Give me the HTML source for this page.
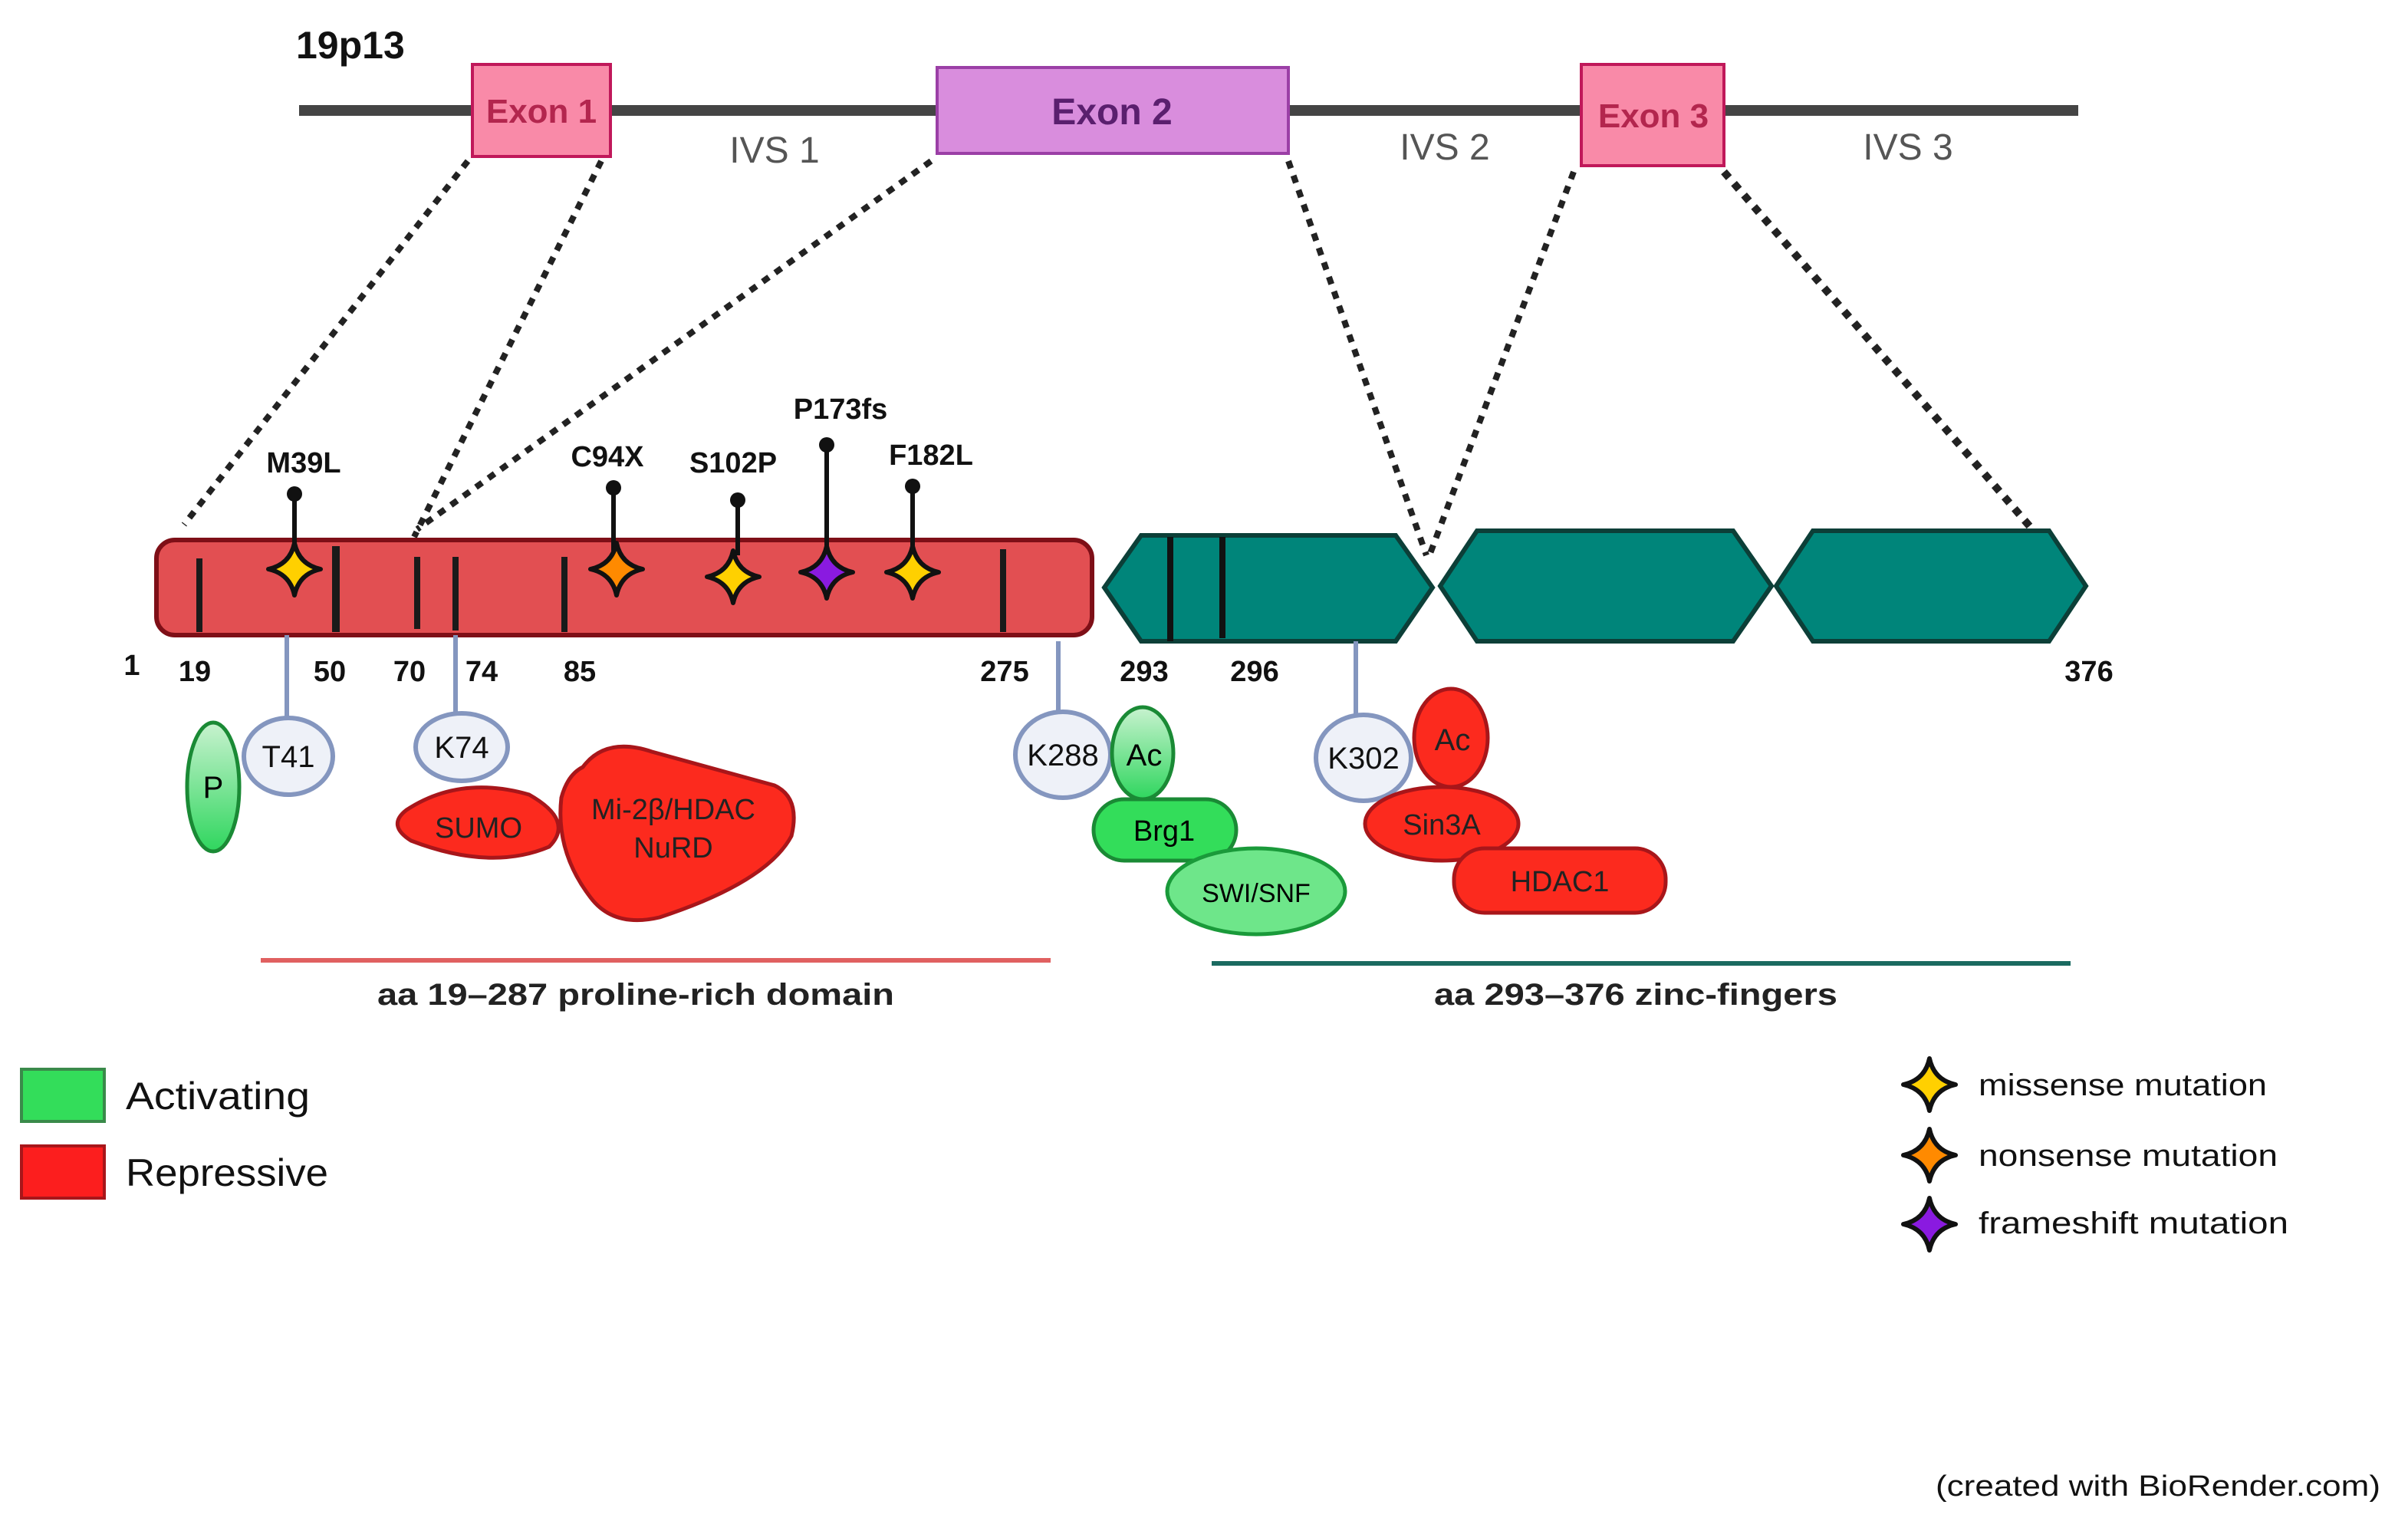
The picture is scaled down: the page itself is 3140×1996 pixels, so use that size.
<!DOCTYPE html>
<html><head><meta charset="utf-8"><style>html,body{margin:0;padding:0;background:#fff}svg{display:block}</style></head>
<body>
<svg width="3140" height="1996" viewBox="0 0 1570 998" xmlns="http://www.w3.org/2000/svg" font-family="Liberation Sans, sans-serif">
<defs>
<linearGradient id="g" x1="0" y1="0" x2="0" y2="1"><stop offset="0" stop-color="#c8f2cf"/><stop offset="1" stop-color="#2fd65e"/></linearGradient>
<path id="st" d="M0,-17 Q3,-3 17,0 Q3,3 0,17 Q-3,3 -17,0 Q-3,-3 0,-17Z" stroke="#111" stroke-width="3" stroke-linejoin="round"/>
</defs>
<text x="193" y="38" font-size="25" font-weight="bold" fill="#111">19p13</text>
<line x1="195" y1="72" x2="1355" y2="72" stroke="#444" stroke-width="7"/>
<rect x="308" y="42" width="90" height="60" fill="#f98aa8" stroke="#c0185a" stroke-width="2"/>
<text x="353" y="80" font-size="22" font-weight="bold" fill="#b3264e" text-anchor="middle">Exon 1</text>
<rect x="611" y="44" width="229" height="56" fill="#d98ddd" stroke="#9b3fa6" stroke-width="2"/>
<text x="725" y="81" font-size="24" font-weight="bold" fill="#5a1f6e" text-anchor="middle">Exon 2</text>
<rect x="1031" y="42" width="93" height="66" fill="#f98aa8" stroke="#c0185a" stroke-width="2"/>
<text x="1078" y="83" font-size="22" font-weight="bold" fill="#b3264e" text-anchor="middle">Exon 3</text>
<g font-size="24" fill="#555" text-anchor="middle"><text x="505" y="106">IVS 1</text><text x="942" y="104">IVS 2</text><text x="1244" y="104">IVS  3</text></g>
<g stroke="#222" stroke-width="4" stroke-dasharray="5 5" fill="none">
<line x1="305" y1="105" x2="120" y2="342"/><line x1="392" y1="105" x2="270" y2="350"/><line x1="607" y1="105" x2="272" y2="345"/>
<line x1="840" y1="105" x2="930" y2="362"/><line x1="1026" y1="112" x2="932" y2="362"/><line x1="1124" y1="112" x2="1325" y2="345" stroke-width="5"/>
</g>
<rect x="102" y="352" width="610" height="62" rx="12" fill="#e24f52" stroke="#7e0f17" stroke-width="3"/>
<g stroke="#1a1a1a" stroke-width="4">
<line x1="130" y1="364" x2="130" y2="412"/><line x1="219" y1="356" x2="219" y2="412" stroke-width="5"/><line x1="272" y1="363" x2="272" y2="410"/><line x1="297" y1="363" x2="297" y2="411"/><line x1="368" y1="363" x2="368" y2="412"/><line x1="654" y1="358" x2="654" y2="412"/>
</g>
<g fill="#00857a" stroke="#0c3f38" stroke-width="3">
<polygon points="720,383 744,349 910,349 934,383 910,418 744,418"/>
<polygon points="939,382 963,346 1130,346 1155,382 1130,418 963,418"/>
<polygon points="1158,382 1182,346 1336,346 1360,382 1336,418 1182,418"/>
</g>
<g stroke="#111" stroke-width="4"><line x1="763" y1="350" x2="763" y2="418"/><line x1="797" y1="350" x2="797" y2="416"/></g>
<g font-size="19" font-weight="bold" fill="#111" text-anchor="middle">
<text x="86" y="440">1</text><text x="127" y="444">19</text><text x="215" y="444">50</text><text x="267" y="444">70</text><text x="314" y="444">74</text><text x="378" y="444">85</text><text x="655" y="444">275</text><text x="746" y="444">293</text><text x="818" y="444">296</text><text x="1362" y="444">376</text>
</g>
<g stroke="#111" stroke-width="3">
<line x1="192" y1="322" x2="192" y2="360"/><line x1="400" y1="318" x2="400" y2="360"/><line x1="481" y1="326" x2="481" y2="362"/><line x1="539" y1="290" x2="539" y2="358"/><line x1="595" y1="317" x2="595" y2="360"/>
</g>
<g fill="#111"><circle cx="192" cy="322" r="5"/><circle cx="400" cy="318" r="5"/><circle cx="481" cy="326" r="5"/><circle cx="539" cy="290" r="5"/><circle cx="595" cy="317" r="5"/></g>
<use href="#st" x="192" y="371" fill="#ffd000"/><use href="#st" x="402" y="371" fill="#ff8a00"/><use href="#st" x="478" y="376" fill="#ffd000"/><use href="#st" x="539" y="373" fill="#8a1ae0"/><use href="#st" x="595" y="373" fill="#ffd000"/>
<g font-size="19" font-weight="bold" fill="#111" text-anchor="middle">
<text x="198" y="308">M39L</text><text x="396" y="304">C94X</text><text x="478" y="308">S102P</text><text x="548" y="273">P173fs</text><text x="607" y="303">F182L</text>
</g>
<g stroke="#8496bf" stroke-width="3"><line x1="187" y1="414" x2="187" y2="469"/><line x1="297" y1="414" x2="297" y2="465"/><line x1="690" y1="418" x2="690" y2="464"/><line x1="884" y1="418" x2="884" y2="466"/></g>
<ellipse cx="139" cy="513" rx="17" ry="42" fill="url(#g)" stroke="#1a8a35" stroke-width="2.5"/>
<text x="139" y="520" font-size="20" text-anchor="middle">P</text>
<path d="M265,528 Q300,505 345,518 Q375,535 358,552 Q320,568 268,548 Q252,538 265,528Z" fill="#fc2a1e" stroke="#a8161a" stroke-width="2.5"/>
<text x="312" y="546" font-size="19" fill="#222" text-anchor="middle">SUMO</text>
<path d="M380,500 Q395,480 425,490 L505,512 Q522,520 516,545 Q500,575 430,598 Q400,605 385,585 Q362,555 366,520 Q370,505 380,500Z" fill="#fc2a1e" stroke="#a8161a" stroke-width="2.5"/>
<text x="439" y="534" font-size="19" fill="#222" text-anchor="middle">Mi-2β/HDAC</text><text x="439" y="559" font-size="19" fill="#222" text-anchor="middle">NuRD</text>
<g fill="#eef1f8" stroke="#8496bf" stroke-width="3">
<ellipse cx="188" cy="493" rx="29" ry="25"/><ellipse cx="301" cy="487" rx="30" ry="22"/><ellipse cx="693" cy="492" rx="31" ry="28"/><ellipse cx="889" cy="494" rx="31" ry="28"/>
</g>
<g font-size="20" fill="#111" text-anchor="middle"><text x="188" y="500">T41</text><text x="301" y="494">K74</text><text x="693" y="499">K288</text><text x="889" y="501">K302</text></g>
<ellipse cx="745" cy="491" rx="20" ry="30" fill="url(#g)" stroke="#1a8a35" stroke-width="2.5"/>
<text x="746" y="499" font-size="20" text-anchor="middle">Ac</text>
<rect x="713" y="521" width="93" height="40" rx="20" fill="#33dd5a" stroke="#1a8a35" stroke-width="2.5"/>
<text x="759" y="548" font-size="19" text-anchor="middle">Brg1</text>
<ellipse cx="819" cy="581" rx="58" ry="28" fill="#6ee68a" stroke="#1a9a3a" stroke-width="2.5"/>
<text x="819" y="588" font-size="17" text-anchor="middle">SWI/SNF</text>
<ellipse cx="946" cy="481" rx="24" ry="32" fill="#fc2a1e" stroke="#a8161a" stroke-width="2.5"/>
<text x="947" y="489" font-size="20" fill="#222" text-anchor="middle">Ac</text>
<ellipse cx="940" cy="537" rx="50" ry="24" fill="#fc2a1e" stroke="#a8161a" stroke-width="2.5"/>
<text x="940" y="544" font-size="19" fill="#222" text-anchor="middle">Sin3A</text>
<rect x="948" y="553" width="138" height="42" rx="20" fill="#fc2a1e" stroke="#a8161a" stroke-width="2.5"/>
<text x="1017" y="581" font-size="19" fill="#222" text-anchor="middle">HDAC1</text>
<line x1="170" y1="626" x2="685" y2="626" stroke="#e06060" stroke-width="3"/>
<line x1="790" y1="628" x2="1350" y2="628" stroke="#1a6a60" stroke-width="3"/>
<g font-size="20" font-weight="bold" fill="#222"><text x="246" y="655" textLength="337" lengthAdjust="spacingAndGlyphs">aa 19–287 proline-rich domain</text><text x="935" y="655" textLength="263" lengthAdjust="spacingAndGlyphs">aa 293–376 zinc-fingers</text></g>
<rect x="14" y="697" width="54" height="34" fill="#33dd5a" stroke="#3a8a4a" stroke-width="2"/>
<text x="82" y="723" font-size="25" fill="#111" textLength="120" lengthAdjust="spacingAndGlyphs">Activating</text>
<rect x="14" y="747" width="54" height="34" fill="#fc1e1e" stroke="#a8161a" stroke-width="2"/>
<text x="82" y="773" font-size="25" fill="#111" textLength="132" lengthAdjust="spacingAndGlyphs">Repressive</text>
<use href="#st" x="1258" y="707" fill="#ffd000"/><use href="#st" x="1258" y="753" fill="#ff8a00"/><use href="#st" x="1258" y="798" fill="#8a1ae0"/>
<g font-size="20" fill="#111"><text x="1290" y="714" textLength="188" lengthAdjust="spacingAndGlyphs">missense mutation</text><text x="1290" y="760" textLength="195" lengthAdjust="spacingAndGlyphs">nonsense  mutation</text><text x="1290" y="804" textLength="202" lengthAdjust="spacingAndGlyphs">frameshift  mutation</text></g>
<text x="1262" y="975" font-size="19" fill="#111" textLength="290" lengthAdjust="spacingAndGlyphs">(created with BioRender.com)</text>
</svg>
</body></html>
